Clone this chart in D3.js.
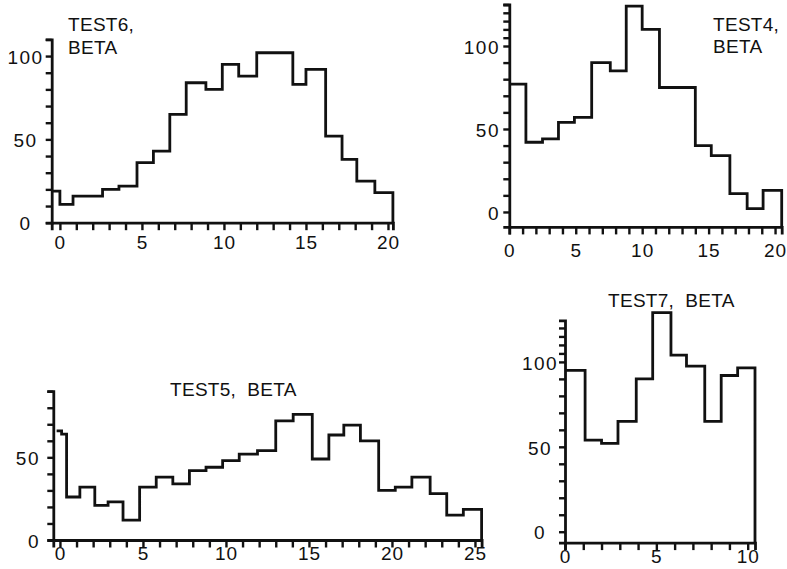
<!DOCTYPE html>
<html><head><meta charset="utf-8">
<script src="https://cdn.jsdelivr.net/npm/d3@7/dist/d3.min.js"></script>
<style>
body{margin:0;background:#fff;}
svg text{font-family:"Liberation Sans",Arial,Helvetica,sans-serif;fill:#111;}
</style></head><body>
<svg id="chart" width="787" height="569"></svg>
<script>
// ---------- DATA ----------
// TEST6, BETA (top left)
const test6Edges  = [-0.5, 0, 0.8, 2.6, 3.6, 4.7, 5.7, 6.7, 7.7, 8.9, 9.9, 10.9, 12.0, 14.2, 15.0, 16.2, 17.2, 18.1, 19.2, 20.3];
const test6Values = [19, 11, 16, 20, 22, 36, 43, 65, 84, 80, 95, 88, 102, 83, 92, 52, 38, 25, 18];
const test6XTicks = d3.range(0, 21);
const test6YTicks = d3.range(0, 111, 10);
const test6Title  = ["TEST6,", "BETA"];

// TEST4, BETA (top right)
const test4Edges  = [0, 1.25, 2.5, 3.7, 4.9, 6.2, 7.6, 8.8, 10.0, 11.3, 14.0, 15.2, 16.6, 17.9, 19.1, 20.5];
const test4Values = [77, 42, 44, 54, 57, 90, 85, 124, 110, 75, 40, 34, 11, 2, 13];
const test4XTicks = d3.range(0, 21);
const test4YTicks = d3.range(0, 101, 10).concat([105, 110, 115, 120, 125]);
const test4Title  = ["TEST4,", "BETA"];

// TEST5, BETA (bottom left)
const test5Edges  = [-0.2, 0.1, 0.4, 1.2, 2.1, 2.9, 3.8, 4.8, 5.8, 6.8, 7.8, 8.8, 9.8, 10.8, 11.9, 13.0, 14.05, 15.2, 16.2, 17.1, 18.1, 19.2, 20.2, 21.2, 22.3, 23.3, 24.3, 25.4];
const test5Values = [66, 64, 26, 32, 21, 23, 12, 32, 38, 34, 42, 44, 48, 52, 54, 72, 76, 49, 63.5, 69.5, 60, 30, 32, 38, 28, 15, 18.5];
const test5XTicks = d3.range(0, 26);
const test5YTicks = d3.range(0, 91, 10);
const test5Title  = ["TEST5,\u00a0 BETA"];

// TEST7, BETA (bottom right)
const test7Edges  = [0, 1.1, 2.0, 2.9, 3.9, 4.8, 5.8, 6.65, 7.65, 8.55, 9.45, 10.4];
const test7Values = [95, 54, 52, 65, 90, 129, 104, 97.5, 65, 92, 96.5];
const test7XTicks = d3.range(0, 11);
const test7YTicks = d3.range(0, 101, 10).concat([105, 110, 115, 120]);
const test7Title  = ["TEST7,\u00a0 BETA"];

const xLabelEvery = 5;
const yLabelValues = [0, 50, 100];

// ---------- LAYOUT ----------
const panels = [
  {edges: test6Edges, values: test6Values, xTicks: test6XTicks, yTicks: test6YTicks, title: test6Title,
   xDom: [-0.5, 20.3], xRng: [51.7, 392.9], yDom: [0, 110], yRng: [222.7, 39.4],
   yLabAnchor: "middle", yLabX: 25.5, xLabTop: 12.7, titleX: 68, titleY: [30.7, 54]},
  {edges: test4Edges, values: test4Values, xTicks: test4XTicks, yTicks: test4YTicks, title: test4Title,
   xDom: [0, 20.5], xRng: [509.3, 781.7], yDom: [-9, 125], yRng: [226.9, 4.5],
   yLabAnchor: "end", yLabX: 500, xLabTop: 16.7, titleX: 713, titleY: [30.7, 53.3]},
  {edges: test5Edges, values: test5Values, xTicks: test5XTicks, yTicks: test5YTicks, title: test5Title,
   xDom: [-0.4, 25.4], xRng: [53.3, 481.6], yDom: [0, 90], yRng: [540, 391.2],
   yLabAnchor: "end", yLabX: 40, xLabTop: 6.7, titleX: 170, titleY: [396]},
  {edges: test7Edges, values: test7Values, xTicks: test7XTicks, yTicks: test7YTicks, title: test7Title,
   xDom: [0, 10.4], xRng: [565, 755], yDom: [-6.4, 124.5], yRng: [542.6, 320.3],
   yLabAnchor: "middle", yLabX: 540, xLabTop: 6.7, titleX: 608, titleY: [306.7]}
];

const svg = d3.select("#chart");
const ink = "#111";
const fontSize = 19;

panels.forEach(p => {
  const x = d3.scaleLinear().domain(p.xDom).range(p.xRng);
  const y = d3.scaleLinear().domain(p.yDom).range(p.yRng);
  const x0 = p.xRng[0], y0 = p.yRng[0];

  // x axis
  const gx = svg.append("g").attr("transform", `translate(0,${y0})`)
    .call(d3.axisBottom(x).tickValues(p.xTicks).tickSizeOuter(0).tickSize(7.5)
      .tickPadding(p.xLabTop - 7.5)
      .tickFormat(d => d % xLabelEvery === 0 ? d : ""));
  gx.select(".domain").attr("stroke", ink).attr("stroke-width", 2.8);
  gx.selectAll(".tick line").attr("stroke", ink).attr("stroke-width", 2.4);
  gx.selectAll(".tick text").attr("font-size", fontSize).attr("letter-spacing", 1).attr("fill", ink)
    .attr("font-family", '"Liberation Sans",Arial,sans-serif');

  // y axis
  const gy = svg.append("g").attr("transform", `translate(${x0},0)`)
    .call(d3.axisLeft(y).tickValues(p.yTicks).tickSizeOuter(0).tickSize(6)
      .tickFormat(d => yLabelValues.includes(d) ? d : ""));
  gy.select(".domain").attr("stroke", ink).attr("stroke-width", 2.8);
  gy.selectAll(".tick line").attr("stroke", ink).attr("stroke-width", 2.4);
  gy.selectAll(".tick text").attr("font-size", fontSize).attr("letter-spacing", 1.5).attr("fill", ink)
    .attr("font-family", '"Liberation Sans",Arial,sans-serif')
    .attr("text-anchor", p.yLabAnchor).attr("x", p.yLabX - x0).attr("dy", "0.38em");

  // histogram step outline
  const pts = p.values.map((v, i) => [p.edges[i], v]);
  pts.push([p.edges[p.edges.length - 1], p.values[p.values.length - 1]]);
  pts.push([p.edges[p.edges.length - 1], p.yDom[0]]);
  const line = d3.line().x(d => x(d[0])).y(d => y(d[1])).curve(d3.curveStepAfter);
  svg.append("path").attr("d", line(pts)).attr("fill", "none")
    .attr("stroke", ink).attr("stroke-width", 2.8).attr("stroke-linejoin", "miter");

  // title
  p.title.forEach((t, i) => {
    svg.append("text").attr("x", p.titleX).attr("y", p.titleY[i])
      .attr("font-size", fontSize).attr("letter-spacing", 0.3).text(t);
  });
});
</script>
</body></html>
